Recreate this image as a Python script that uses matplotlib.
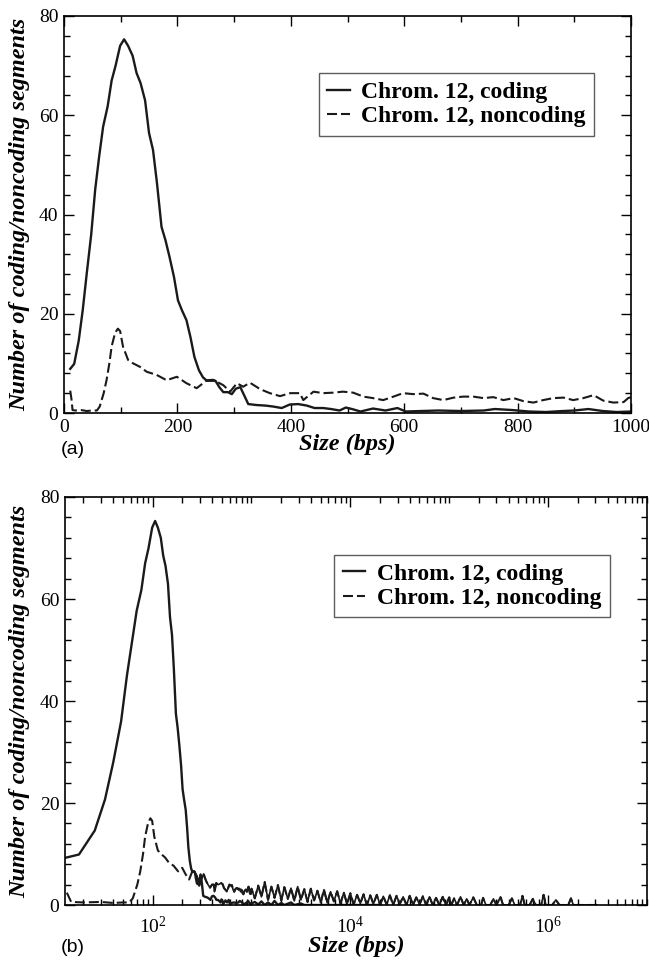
import numpy as np
import matplotlib.pyplot as plt
from matplotlib.ticker import MultipleLocator, LogLocator, LogFormatterMathtext, NullFormatter

plt.rcParams['font.family'] = 'serif'
plt.rcParams['font.serif'] = ['Liberation Serif', 'DejaVu Serif']
plt.rcParams['mathtext.fontset'] = 'stix'

# coding segments, size 11..1000 bps
coding_x = [11, 18, 26, 33, 40, 48, 55, 62, 69, 77, 84, 91, 99, 106, 113, 121, 128, 135, 143, 150,
            157, 164, 172, 179, 186, 194, 201, 208, 216, 223, 230, 238, 245, 252, 260, 267, 274, 281,
            289, 296, 303, 311, 318, 325, 340, 355, 369, 384, 398, 413, 428, 442, 457, 471, 486, 497,
            508, 523, 545, 567, 588, 603, 630, 660, 700, 740, 760, 790, 820, 850, 880, 900, 925, 950,
            975, 1000]
coding_y = [8.9, 9.9, 14.6, 20.7, 28, 36, 45, 51.7, 57.7, 61.8, 67, 70, 74, 75.3, 74, 72, 68.5, 66.5,
            63, 56.4, 53, 46.3, 37.5, 34.8, 31.5, 27.4, 22.7, 20.7, 18.7, 15.3, 11.3, 8.6, 7.2, 6.5,
            6.5, 6.5, 5.2, 4.2, 4.2, 3.8, 4.9, 5.2, 3.5, 1.8, 1.6, 1.5, 1.3, 1.0, 1.7, 1.8, 1.5, 1.0,
            1.0, 0.8, 0.5, 1.1, 0.8, 0.3, 0.9, 0.5, 1.0, 0.3, 0.4, 0.5, 0.4, 0.5, 0.8, 0.6, 0.3, 0.2,
            0.4, 0.5, 0.8, 0.4, 0.2, 0.3]
# coding tail (only visible in panel b)
coding_tail_x = [1080, 1170, 1260, 1360, 1470, 1590, 1710, 1850, 2000, 2150, 2510, 2710, 3160, 3420,
                 5000, 20000]
coding_tail_y = [0.6, 0.1, 0.7, 0.0, 0.5, 0.0, 0.8, 0.0, 0.4, 0.0, 0.5, 0.0, 0.3, 0.0, 0.0, 0.0]

# noncoding segments, size 11..995 bps
noncoding_x = [11, 13.5, 15, 20, 30, 40, 50, 58, 63, 70, 75, 80, 84, 90, 95, 99, 104, 113, 122, 134,
               146, 163, 181, 199, 216, 234, 252, 263, 281, 293, 305, 316, 328, 346, 363, 381, 399,
               416, 422, 440, 457, 475, 492, 510, 528, 545, 563, 581, 598, 616, 634, 651, 669, 687,
               704, 722, 740, 757, 775, 793, 810, 828, 845, 863, 881, 898, 916, 934, 951, 969, 987, 995]
noncoding_y = [4.5, 2.5, 0.6, 0.5, 0.6, 0.4, 0.5, 0.5, 1.3, 4.0, 6.6, 10, 13.4, 16.1, 17, 16.5, 13.4,
               10.7, 10, 9.3, 8.3, 7.7, 6.6, 7.3, 6.0, 5.0, 6.6, 6.7, 5.6, 4.3, 6.0, 5.3, 6.1, 4.8,
               4.0, 3.4, 4.0, 4.0, 2.6, 4.3, 4.0, 4.1, 4.3, 4.1, 3.3, 3.0, 2.6, 3.3, 4.0, 3.8, 3.9,
               3.0, 2.6, 3.1, 3.3, 3.3, 3.0, 3.2, 2.6, 3.0, 2.4, 2.1, 2.6, 3.0, 3.1, 2.6, 3.0, 3.6,
               2.5, 2.1, 2.2, 3.0]
# noncoding tail (panel b), noisy band
noncoding_tail_x = [1000, 1080, 1170, 1260, 1360, 1470, 1590, 1710, 1850, 2000, 2150, 2330, 2510,
                    2710, 2930, 3160, 3420, 3690, 3980, 4300, 4640, 5010, 5410, 5840, 6310, 6810,
                    7360, 7940, 8580, 9260,
                    10000, 10800, 11700, 12600, 13600, 14700, 15900, 17100, 18500, 20000, 21500,
                    23300, 25100, 27100, 29300, 31600, 34200, 36900, 39800, 43000, 46400, 50100,
                    54100, 58400, 63100, 68100, 73600, 79400, 85800, 92600,
                    100000, 105000, 112000, 120000, 130000, 140000, 150000, 160000, 175000, 190000,
                    210000, 220000, 235000, 260000, 280000, 300000, 330000, 350000, 400000, 430000,
                    460000, 520000, 550000, 580000, 650000, 700000, 750000, 850000, 900000, 950000,
                    1100000, 1200000, 1300000, 1600000, 1700000, 1800000, 3100000]
noncoding_tail_y = [3.2, 1.3, 3.8, 1.6, 4.5, 1.0, 3.6, 1.4, 3.9, 0.9, 3.5, 1.2, 3.3, 0.8, 3.6, 1.0,
                    3.1, 0.6, 3.2, 0.9, 2.8, 0.5, 3.0, 0.4, 2.6, 0.7, 2.7, 0.3, 2.4, 0.2,
                    2.3, 0.1, 2.0, 0.3, 2.1, 0.0, 1.9, 0.2, 2.0, 0.0, 1.7, 0.1, 1.9, 0.0, 1.8, 0.2,
                    1.6, 0.0, 1.8, 0.0, 1.5, 0.1, 1.7, 0.0, 1.6, 0.0, 1.4, 0.0, 1.6, 0.0,
                    1.5, 0.0, 1.3, 0.0, 1.6, 0.0, 1.2, 0.0, 1.5, 0.0, 0.0, 1.4, 0.0, 0.0, 1.2, 0.0,
                    1.6, 0.0, 0.0, 1.3, 0.0, 0.0, 1.8, 0.0, 0.0, 1.2, 0.0, 0.0, 2.0, 0.0, 0.0, 1.0,
                    0.0, 0.0, 1.3, 0.0, 0.0]

labels = ['Chrom. 12, coding', 'Chrom. 12, noncoding']

cx = coding_x + coding_tail_x
cy = coding_y + coding_tail_y
nx = np.array(noncoding_x + noncoding_tail_x)
ny = np.array(noncoding_y + noncoding_tail_y)

col = '#1a1a1a'
dash = (0, (4.8, 1.9))
lab_font = dict(family='Liberation Serif', weight='bold', style='italic', size=17.5)

fig = plt.figure(figsize=(6.49, 9.61), dpi=100)
ax1 = fig.add_axes([64/649, 1-413/961, 567/649, 397/961])
ax2 = fig.add_axes([65/649, 1-905/961, 582/649, 408/961])

for ax in (ax1, ax2):
    ax.plot(cx, cy, color=col, lw=1.7, label=labels[0])
    ax.plot(nx, ny, color=col, lw=1.5, linestyle=dash, label=labels[1])
    ax.set_ylim(0, 80)
    ax.yaxis.set_major_locator(MultipleLocator(20))
    ax.yaxis.set_minor_locator(MultipleLocator(4))
    ax.tick_params(which='both', direction='in', top=True, right=True, width=1)
    ax.tick_params(which='major', length=7, labelsize=14)
    ax.tick_params(which='minor', length=4.3)
    ax.tick_params(axis='y', pad=4)
    for s in ax.spines.values():
        s.set_linewidth(1.2)
    ax.set_xlabel('Size (bps)', fontdict=lab_font)
    ax.set_ylabel('Number of coding/noncoding segments', fontdict=lab_font)

# on the log panel the noisy tail of the noncoding curve blurs into a solid band
tail = nx >= 250
ax2.plot(nx[tail], ny[tail], color=col, lw=1.2)

ax1.set_xlim(0, 1000)
ax1.xaxis.set_major_locator(MultipleLocator(200))
ax1.xaxis.set_minor_locator(MultipleLocator(100))
ax1.tick_params(axis='x', pad=4)
ax1.xaxis.set_label_coords(0.5, -0.053)
ax1.yaxis.set_label_coords(-0.06, 0.5)

ax2.set_xscale('log')
ax2.set_xlim(13, 1e7)
ax2.xaxis.set_major_locator(LogLocator(base=100))
ax2.xaxis.set_major_formatter(LogFormatterMathtext(base=10))
ax2.xaxis.set_minor_locator(LogLocator(base=10, subs=np.arange(1, 10), numticks=30))
ax2.xaxis.set_minor_formatter(NullFormatter())
ax2.tick_params(axis='x', pad=8)
ax2.xaxis.set_label_coords(0.5, -0.076)
ax2.yaxis.set_label_coords(-0.059, 0.5)

leg_kw = dict(loc='upper right', frameon=True, fancybox=False, handlelength=0.95,
              handletextpad=0.5, labelspacing=0.12, borderpad=0.35, borderaxespad=0,
              prop=dict(family='Liberation Serif', weight='bold', size=17))
l1 = ax1.legend(bbox_to_anchor=(0.935, 0.856), **leg_kw)
l2 = ax2.legend(bbox_to_anchor=(0.936, 0.858), **leg_kw)
for lg in (l1, l2):
    lg.get_frame().set_edgecolor('#333333')
    lg.get_frame().set_linewidth(1.0)

fig.text(73/649, 1-450/961, '(a)', family='Liberation Sans', size=14, ha='center', va='center')
fig.text(73/649, 1-948/961, '(b)', family='Liberation Sans', size=14, ha='center', va='center')

fig.savefig('out.png', dpi=100)
